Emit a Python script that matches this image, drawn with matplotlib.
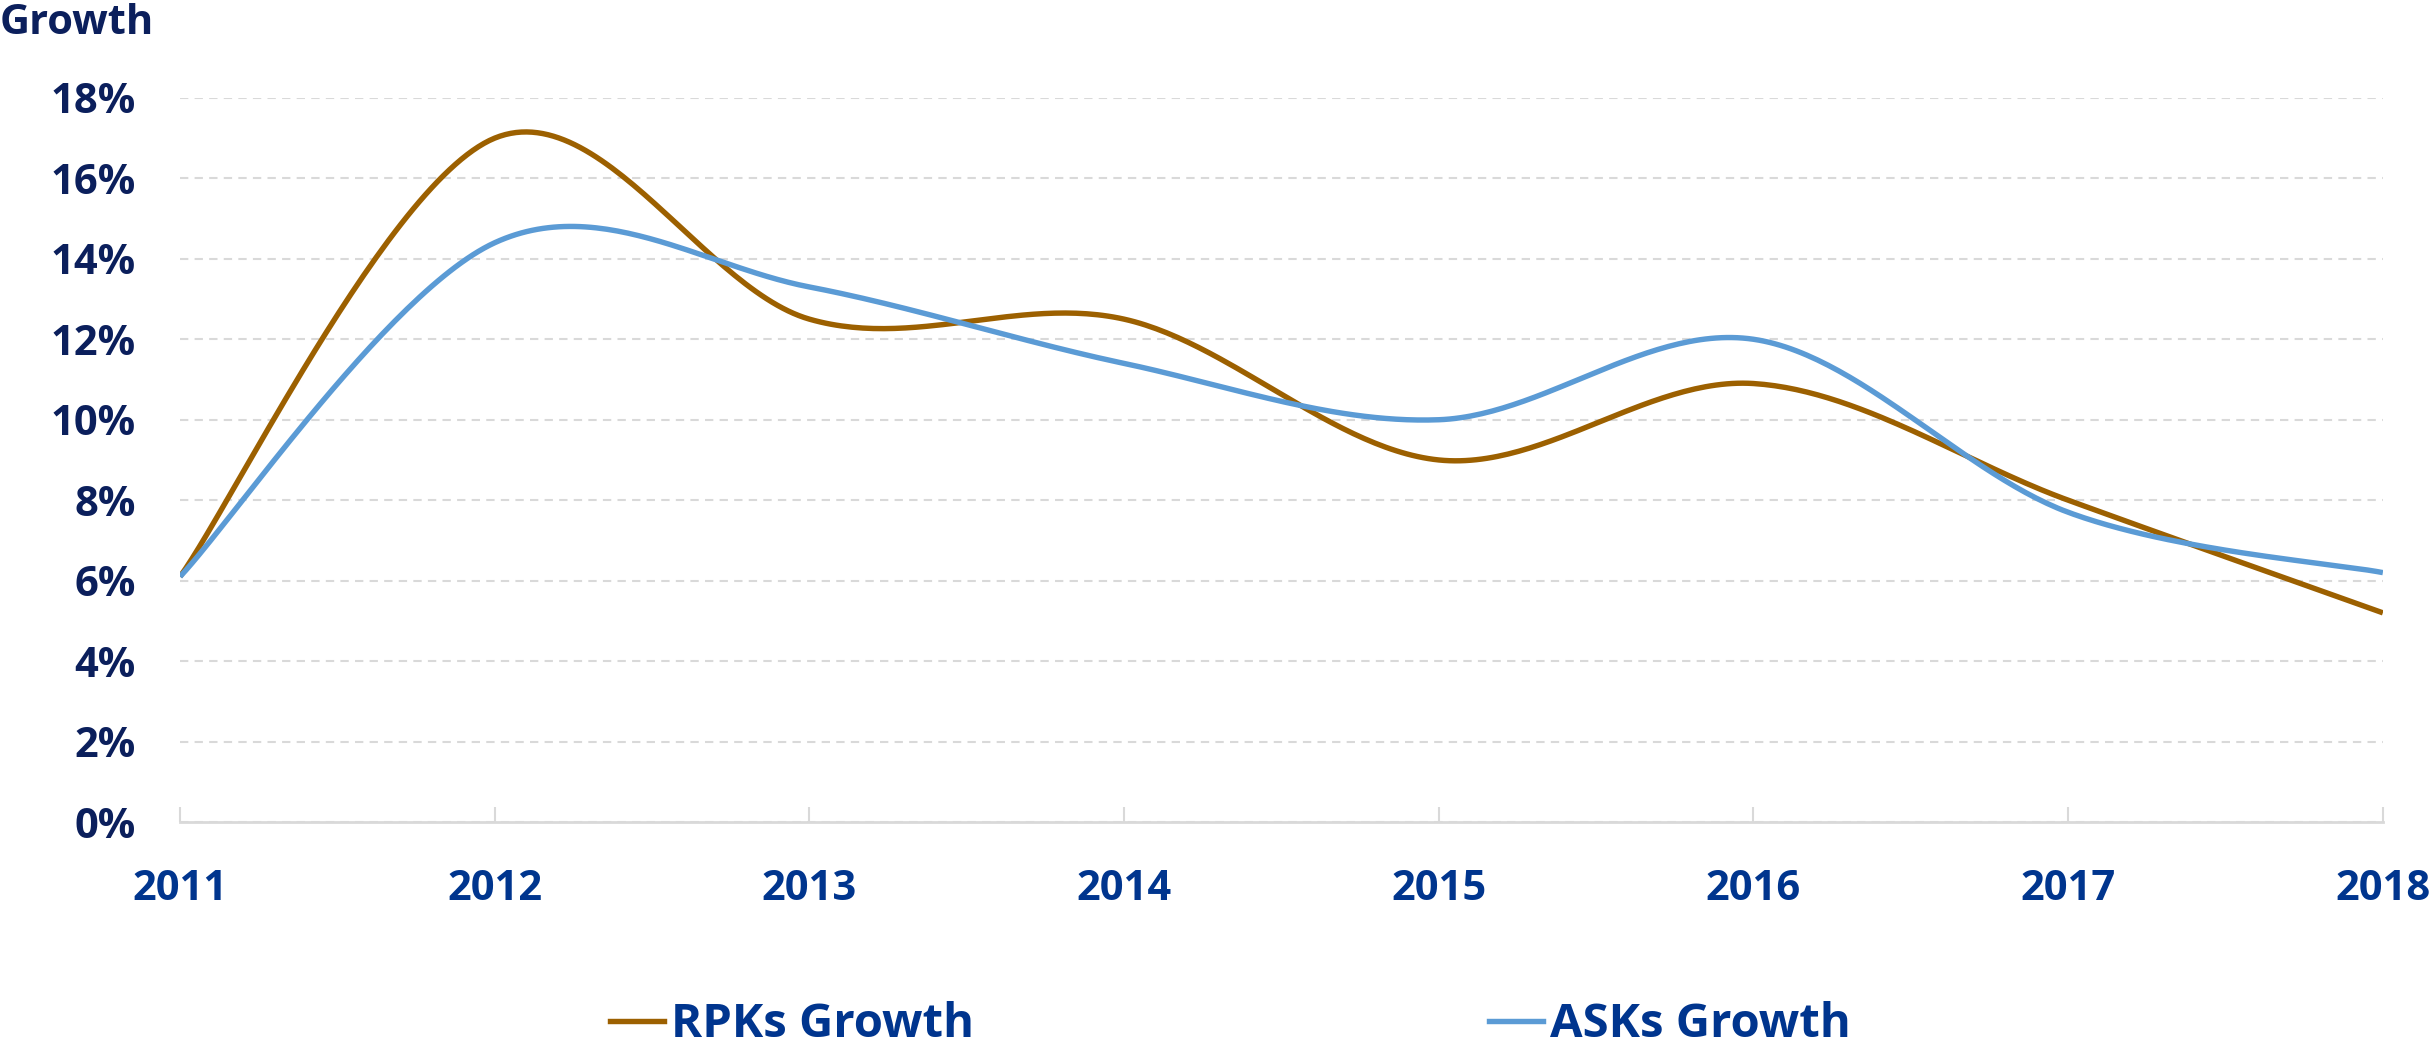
import numpy as np
import matplotlib.pyplot as plt
from matplotlib.lines import Line2D

years = [2011, 2012, 2013, 2014, 2015, 2016, 2017, 2018]
rpks = [6.1, 17.0, 12.5, 12.5, 9.0, 10.9, 8.0, 5.2]
asks = [6.1, 14.4, 13.3, 11.4, 10.0, 12.0, 7.7, 6.2]
yticks = [0, 2, 4, 6, 8, 10, 12, 14, 16, 18]


def smooth(x, y, n=60):
    # Excel-style smoothed line: Catmull-Rom through each point, drawn as cubic Bezier
    x = np.asarray(x, float)
    y = np.asarray(y, float)
    pts = np.column_stack([x, y])
    ext = np.vstack([pts[0], pts, pts[-1]])
    out = []
    t = np.linspace(0, 1, n)[:, None]
    for i in range(len(pts) - 1):
        p0, p1, p2, p3 = ext[i], ext[i + 1], ext[i + 2], ext[i + 3]
        c1 = p1 + (p2 - p0) / 6
        c2 = p2 - (p3 - p1) / 6
        seg = ((1 - t) ** 3) * p1 + 3 * ((1 - t) ** 2) * t * c1 + 3 * (1 - t) * t ** 2 * c2 + t ** 3 * p2
        out.append(seg if i == 0 else seg[1:])
    out = np.vstack(out)
    return out[:, 0], out[:, 1]


navy = '#0b1f5c'
blue_txt = '#00358e'
c_rpk = '#9c6000'
c_ask = '#5b9bd5'

plt.rcParams['font.family'] = ['Open Sans', 'DejaVu Sans']
plt.rcParams['font.weight'] = 'bold'

fig = plt.figure(figsize=(24.33, 10.48), dpi=100)
ax = fig.add_axes([0.074, 0.2156, 0.9054, 0.691])

xs, ys = smooth(years, rpks)
ax.plot(xs, ys, color=c_rpk, lw=3.9, solid_capstyle='butt', zorder=3)
xs, ys = smooth(years, asks)
ax.plot(xs, ys, color=c_ask, lw=3.9, solid_capstyle='butt', zorder=3)

ax.set_xlim(years[0], years[-1])
ax.set_ylim(0, 18)
ax.set_yticks(yticks)
ax.set_yticklabels([f'{v}%' for v in yticks])
ax.set_xticks(years)
ax.set_xticklabels([str(y) for y in years])

for s in ['top', 'right', 'left']:
    ax.spines[s].set_visible(False)
ax.spines['bottom'].set_color('#d9d9d9')
ax.spines['bottom'].set_linewidth(2)
ax.grid(axis='y', color='#d9d9d9', linestyle=(0, (4, 3)), linewidth=1.5)
ax.set_axisbelow(True)

ax.tick_params(axis='y', length=0, pad=32, labelsize=30, labelcolor=navy)
ax.tick_params(axis='x', direction='in', length=11, width=1.5, color='#d9d9d9',
               pad=34, labelsize=30, labelcolor=blue_txt)
for lab in ax.get_xticklabels() + ax.get_yticklabels():
    lab.set_fontweight('bold')

fig.text(0.0, 0.978, 'Growth', fontsize=30, fontweight='bold', color=navy,
         ha='left', va='center')

handles = [Line2D([], [], color=c_rpk, lw=3.9), Line2D([], [], color=c_ask, lw=3.9)]
leg = fig.legend(handles, ['RPKs Growth', 'ASKs Growth'], loc='center',
                 bbox_to_anchor=(0.5058, 0.022), ncol=2, frameon=False,
                 handlelength=1.15, handletextpad=0.15, columnspacing=10.9,
                 prop={'size': 34, 'weight': 'bold'})
for t in leg.get_texts():
    t.set_color(blue_txt)

fig.savefig('out.png', dpi=100)
